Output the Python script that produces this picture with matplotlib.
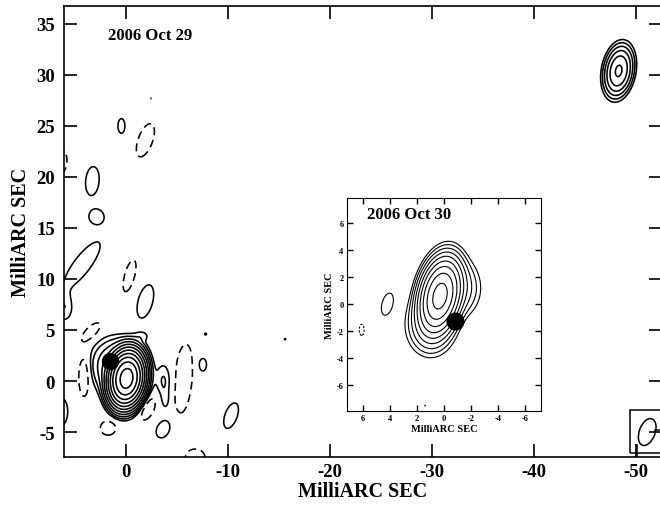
import numpy as np
import matplotlib.pyplot as plt
from matplotlib.patches import Ellipse, Rectangle

plt.rcParams['font.family'] = ['Liberation Serif', 'DejaVu Serif']
plt.rcParams['font.weight'] = 'bold'
plt.rcParams['axes.unicode_minus'] = False

# contour levels (lowest level = 1), factor 2 steps
main_levels = [1, 2, 4, 8, 16, 32, 64, 128, 256, 512, 1024]
inset_levels = [1, 2, 4, 8, 16, 32, 64, 128, 256]
neg_levels = [-1]

# 2006 Oct 29 image components: x, y (mas), peak, sigma x, sigma y, tilt (deg)
oct29_x = [-0.05, 1.0, -1.6, -48.3,
           0.45, 3.3, 2.9, 4.3, 6.0, -1.9, 6.6, 6.5, -3.7, -3.9, -3.7, -7.5, -7.8, -10.3, -15.6, -2.45,
           -1.9, 6.5, 4.1, 3.4, 1.75, -0.35, -2.15, -5.6, -6.8]
oct29_y = [0.25, 1.5, 4.4, 30.4,
           25.0, 19.6, 16.1, 11.4, 7.2, 7.8, -3.0, 2.0, 0.0, -1.9, -4.7, 1.6, 4.6, -3.4, 4.1, 27.7,
           23.6, 21.6, 0.5, 4.8, -4.6, 10.3, -2.7, 0.2, -7.5]
oct29_amp = [1500, 10, 1.2, 36,
             1.9, 1.9, 1.9, 1.9, 1.9, 1.9, 1.9, 1.5, 2.2, 1.3, 1.9, 1.9, 1.15, 1.9, 1.05, 1.05,
             -2, -2, -2.6, -2, -2, -2, -2.5, -2, -2]
oct29_sx = [0.7, 1.3, 0.5, 0.64,
            0.3, 0.58, 0.63, 0.72, 0.58, 0.63, 0.78, 0.35, 0.55, 0.3, 0.58, 0.35, 0.2, 0.53, 0.2, 0.12,
            0.6, 0.6, 0.42, 0.45, 0.65, 0.42, 0.45, 0.75, 0.8]
oct29_sy = [1.1, 1.4, 0.35, 1.16,
            0.63, 1.25, 0.63, 2.4, 1.0, 1.47, 1.35, 0.4, 1.2, 0.7, 0.84, 0.58, 0.2, 1.15, 0.2, 0.12,
            1.45, 1.1, 1.5, 1.0, 0.6, 1.35, 0.9, 2.9, 0.7]
oct29_tilt = [8, 0, 0, 10,
              0, 5, 0, 37, 0, 15, 0, 0, 0, 0, 30, 0, 0, 20, 0, 0,
              20, 0, 0, 45, 0, 15, 25, 5, 0]

# 2006 Oct 30 image components
oct30_x = [0.3, 1.0, -1.2, 4.2, 1.4, 6.1]
oct30_y = [0.6, -1.6, 1.2, 0.0, -7.5, -1.9]
oct30_amp = [350, 8, 6, 1.9, 1.05, -2]
oct30_sx = [0.63, 0.9, 0.8, 0.35, 0.08, 0.15]
oct30_sy = [1.2, 1.1, 1.1, 0.74, 0.1, 0.35]
oct30_tilt = [12, 0, 0, 15, 0, 0]

# core positions marked with black dots
dot29 = (1.6, 2.0)
dot30 = (-0.8, -1.25)

# restoring beam
beam_x, beam_y, beam_w, beam_h, beam_pa = -51.1, -5.0, 1.55, 2.75, 20


def model(X, Y, xs, ys, amps, sxs, sys_, tilts):
    Z = np.zeros_like(X)
    for x0, y0, a, sx, sy, t in zip(xs, ys, amps, sxs, sys_, tilts):
        t = np.radians(t)
        dx, dy = X - x0, Y - y0
        u = dx * np.cos(t) + dy * np.sin(t)
        v = -dx * np.sin(t) + dy * np.cos(t)
        Z += a * np.exp(-0.5 * ((u / sx) ** 2 + (v / sy) ** 2))
    return Z


fig = plt.figure(figsize=(6.6, 5.06), dpi=100)

# main panel
ax = fig.add_axes([64 / 660, 48 / 506, 598 / 660, 451 / 506])
X, Y = np.meshgrid(np.arange(-54, 8, 0.05), np.arange(-9, 38, 0.05))
Z = model(X, Y, oct29_x, oct29_y, oct29_amp, oct29_sx, oct29_sy, oct29_tilt)
ax.contour(X, Y, Z, levels=main_levels, colors='k', linewidths=1.15, linestyles='solid')
ax.contour(X, Y, Z, levels=neg_levels, colors='k', linewidths=1.15, linestyles=[(0, (5, 3))])
ax.plot(*dot29, 'o', color='k', ms=11.5)

ax.add_patch(Ellipse((beam_x, beam_y), beam_w, beam_h, angle=beam_pa, fill=False, lw=1.1, color='k'))
ax.add_patch(Rectangle((-49.4, -7.05), -3.6, 4.2, fill=False, lw=1.1, color='k'))
ax.plot([-51.9, -53], [-4.85, -4.85], color='k', lw=1.1)
ax.plot([-50.1, -50.1], [-6.3, -7.6], color='k', lw=1.1)

ax.set_xlim(6.08, -52.55)
ax.set_ylim(-7.45, 36.76)
ax.set_xticks([0, -10, -20, -30, -40, -50])
ax.set_yticks([-5, 0, 5, 10, 15, 20, 25, 30, 35])
ax.tick_params(direction='in', length=9.5, width=1.2, top=True, right=True, labelsize=13.5)
ax.tick_params(axis='x', pad=4)
ax.tick_params(axis='y', pad=6.5)
for s in ax.spines.values():
    s.set_linewidth(1.2)
ax.set_xlabel('MilliARC SEC', fontsize=14.5, fontweight='bold', labelpad=1)
ax.set_ylabel('MilliARC SEC', fontsize=14.5, fontweight='bold', labelpad=4)
ax.text(0.074, 0.936, '2006 Oct 29', transform=ax.transAxes, fontsize=12,
        fontweight='bold', va='center', ha='left')

# inset panel
axi = fig.add_axes([347 / 660, 94 / 506, 194 / 660, 213 / 506])
Xi, Yi = np.meshgrid(np.arange(-7.5, 7.5, 0.03), np.arange(-8.2, 8.2, 0.03))
Zi = model(Xi, Yi, oct30_x, oct30_y, oct30_amp, oct30_sx, oct30_sy, oct30_tilt)
axi.contour(Xi, Yi, Zi, levels=inset_levels, colors='k', linewidths=0.8, linestyles='solid')
axi.contour(Xi, Yi, Zi, levels=neg_levels, colors='k', linewidths=0.8, linestyles=[(0, (2, 1.5))])
axi.plot(*dot30, 'o', color='k', ms=12)
axi.set_xlim(7.19, -7.19)
axi.set_ylim(-7.9, 7.85)
axi.set_xticks([6, 4, 2, 0, -2, -4, -6])
axi.set_yticks([-6, -4, -2, 0, 2, 4, 6])
axi.tick_params(direction='in', length=4, width=1, top=True, right=True, labelsize=6, pad=2.5)
axi.set_xlabel('MilliARC SEC', fontsize=7.5, fontweight='bold', labelpad=1)
axi.set_ylabel('MilliARC SEC', fontsize=7.5, fontweight='bold', labelpad=2)
axi.text(0.103, 0.925, '2006 Oct 30', transform=axi.transAxes, fontsize=12,
         fontweight='bold', va='center', ha='left')

fig.savefig('out.png', dpi=100)
